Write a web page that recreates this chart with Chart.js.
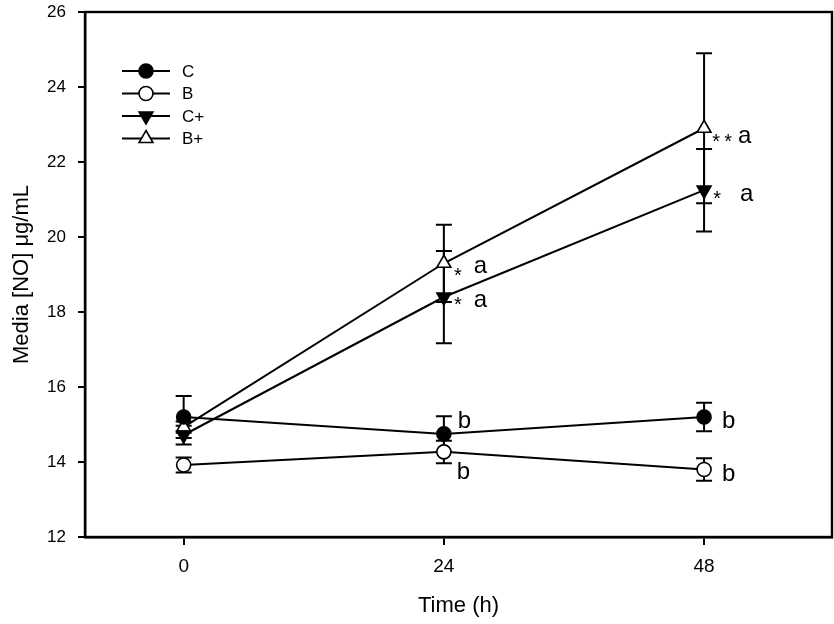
<!DOCTYPE html>
<html>
<head>
<meta charset="utf-8">
<script src="https://cdn.jsdelivr.net/npm/chart.js@4"></script>
<style>
  html, body { margin: 0; padding: 0; background: #fff; overflow: hidden; }
  #wrap { width: 834px; height: 624px; position: relative; }
  #chart { display: block; }
</style>
</head>
<body>
<div id="wrap"><canvas id="chart"></canvas></div>
<script>
const timePoints = [0, 24, 48];
const xTicks = [0, 24, 48];
const yTicks = [12, 14, 16, 18, 20, 22, 24, 26];
const seriesNames = ['C', 'B', 'C+', 'B+'];

const cMean = [15.2, 14.75, 15.2];
const cErr = [0.56, 0.47, 0.38];
const bMean = [13.92, 14.27, 13.8];
const bErr = [0.2, 0.3, 0.3];
const cpMean = [14.72, 18.4, 21.25];
const cpErr = [0.25, 1.23, 1.1];
const bpMean = [14.93, 19.3, 22.9];
const bpErr = [0.15, 1.03, 2.0];

// significance marks per series (index matches timePoints)
const cLetters = ['', 'b', 'b'];
const bLetters = ['', 'b', 'b'];
const cpStars = ['', '*', '*'];
const cpLetters = ['', 'a', 'a'];
const bpStars = ['', '*', '**'];
const bpLetters = ['', 'a', 'a'];

const FONT = '"Liberation Sans", Arial, sans-serif';

function pts(mean) {
    return timePoints.map((t, i) => ({ x: t, y: mean[i] }));
}

const datasets = [
    { label: 'C', data: pts(cMean), err: cErr, pointStyle: 'circle', rotation: 0, fillCol: '#000', r: 7 },
    { label: 'B', data: pts(bMean), err: bErr, pointStyle: 'circle', rotation: 0, fillCol: '#fff', r: 7 },
    { label: 'C+', data: pts(cpMean), err: cpErr, pointStyle: 'triangle', rotation: 180, fillCol: '#000', r: 8 },
    { label: 'B+', data: pts(bpMean), err: bpErr, pointStyle: 'triangle', rotation: 0, fillCol: '#fff', r: 8 }
].map(d => Object.assign(d, {
    borderColor: '#000',
    borderWidth: 2,
    pointBorderColor: '#000',
    pointBackgroundColor: d.fillCol,
    pointBorderWidth: 1.6,
    pointRadius: d.r,
    pointHoverRadius: d.r,
    pointRotation: d.rotation,
    fill: false,
    tension: 0
}));

// label placement (pixel offsets from the point, alphabetic baseline)
const letterMarks = [
    { ds: 0, idx: 1, text: cLetters[1], dx: 14, dy: -6 },
    { ds: 0, idx: 2, text: cLetters[2], dx: 18, dy: 11 },
    { ds: 1, idx: 1, text: bLetters[1], dx: 13, dy: 27 },
    { ds: 1, idx: 2, text: bLetters[2], dx: 18, dy: 11 },
    { ds: 2, idx: 1, text: cpLetters[1], dx: 30, dy: 10 },
    { ds: 2, idx: 2, text: cpLetters[2], dx: 36, dy: 11 },
    { ds: 3, idx: 1, text: bpLetters[1], dx: 30, dy: 10 },
    { ds: 3, idx: 2, text: bpLetters[2], dx: 34, dy: 15 }
];
// star centres, offsets from the point
const starMarks = [
    { ds: 2, idx: 1, text: cpStars[1], dx: 14, dy: 3 },
    { ds: 2, idx: 2, text: cpStars[2], dx: 13, dy: 4 },
    { ds: 3, idx: 1, text: bpStars[1], dx: 14, dy: 8 },
    { ds: 3, idx: 2, text: bpStars[2], dx: 12, dy: 9 }
];

const errorBars = {
    id: 'errorBars',
    beforeDatasetsDraw(chart) {
        const { ctx, scales: { x, y } } = chart;
        ctx.save();
        ctx.strokeStyle = '#000';
        ctx.lineWidth = 2;
        chart.data.datasets.forEach(ds => {
            ds.data.forEach((p, i) => {
                const px = x.getPixelForValue(p.x);
                const top = y.getPixelForValue(p.y + ds.err[i]);
                const bot = y.getPixelForValue(p.y - ds.err[i]);
                ctx.beginPath();
                ctx.moveTo(px, top); ctx.lineTo(px, bot);
                ctx.moveTo(px - 8, top); ctx.lineTo(px + 8, top);
                ctx.moveTo(px - 8, bot); ctx.lineTo(px + 8, bot);
                ctx.stroke();
            });
        });
        ctx.restore();
    }
};

const extras = {
    id: 'extras',
    afterDraw(chart) {
        const { ctx, chartArea: a, scales: { x, y } } = chart;
        const sets = chart.data.datasets;
        ctx.save();
        // frame
        ctx.strokeStyle = '#000';
        ctx.lineWidth = 2.4;
        ctx.strokeRect(a.left, a.top, a.right - a.left, a.bottom - a.top);

        // letters
        ctx.fillStyle = '#000';
        ctx.textAlign = 'left';
        ctx.textBaseline = 'alphabetic';
        ctx.font = '24px ' + FONT;
        letterMarks.forEach(m => {
            if (!m.text) return;
            const p = sets[m.ds].data[m.idx];
            ctx.fillText(m.text, x.getPixelForValue(p.x) + m.dx, y.getPixelForValue(p.y) + m.dy);
        });
        // stars
        ctx.font = '20px ' + FONT;
        ctx.textAlign = 'center';
        starMarks.forEach(m => {
            const p = sets[m.ds].data[m.idx];
            const bx = x.getPixelForValue(p.x) + m.dx;
            const by = y.getPixelForValue(p.y) + m.dy + 11;
            m.text.split('').forEach((s, k) => ctx.fillText(s, bx + k * 12, by));
        });

        // legend
        const lx = 122, ly = 71, gap = 22.5;
        ctx.textAlign = 'left';
        ctx.textBaseline = 'middle';
        sets.forEach((ds, i) => {
            const yy = ly + i * gap;
            ctx.strokeStyle = '#000';
            ctx.lineWidth = 2;
            ctx.beginPath();
            ctx.moveTo(lx, yy); ctx.lineTo(lx + 48, yy);
            ctx.stroke();
            ctx.fillStyle = ds.fillCol;
            ctx.lineWidth = 1.6;
            Chart.helpers.drawPoint(ctx, {
                pointStyle: ds.pointStyle, rotation: ds.rotation, radius: ds.r, borderWidth: 1.6
            }, lx + 24, yy);
            ctx.fillStyle = '#000';
            ctx.font = '17px ' + FONT;
            ctx.fillText(seriesNames[i], lx + 60, yy + 1);
        });
        ctx.restore();
    }
};

new Chart(document.getElementById('chart'), {
    type: 'line',
    data: { datasets: datasets },
    plugins: [errorBars, extras],
    options: {
        responsive: true,
        maintainAspectRatio: false,
        animation: false,
        events: [],
        layout: { autoPadding: false, padding: { top: 12, right: 2, left: 0, bottom: 0 } },
        plugins: { legend: { display: false }, tooltip: { enabled: false } },
        scales: {
            x: {
                type: 'linear',
                min: -9.1,
                max: 59.8,
                afterBuildTicks: s => { s.ticks = xTicks.map(v => ({ value: v })); },
                afterFit: s => { s.height = 87; s.paddingLeft = 0; s.paddingRight = 0; },
                grid: { drawOnChartArea: false, tickLength: 8, color: '#000', lineWidth: 2 },
                border: { color: '#000', width: 2.4 },
                ticks: { color: '#000', font: { family: FONT, size: 19 }, padding: 10, maxRotation: 0 },
                title: { display: true, text: 'Time (h)', color: '#000', font: { family: FONT, size: 22 }, padding: { top: 4, bottom: 5 } }
            },
            y: {
                min: 12,
                max: 26,
                afterBuildTicks: s => { s.ticks = yTicks.map(v => ({ value: v })); },
                afterFit: s => { s.width = 85; s.paddingTop = 0; s.paddingBottom = 0; },
                grid: { drawOnChartArea: false, tickLength: 7, color: '#000', lineWidth: 2 },
                border: { color: '#000', width: 2.4 },
                ticks: { color: '#000', font: { family: FONT, size: 17 }, padding: 12 },
                title: { display: true, text: 'Media [NO] μg/mL', color: '#000', font: { family: FONT, size: 22 }, padding: { top: 9, bottom: 0 } }
            }
        }
    }
});
</script>
</body>
</html>
